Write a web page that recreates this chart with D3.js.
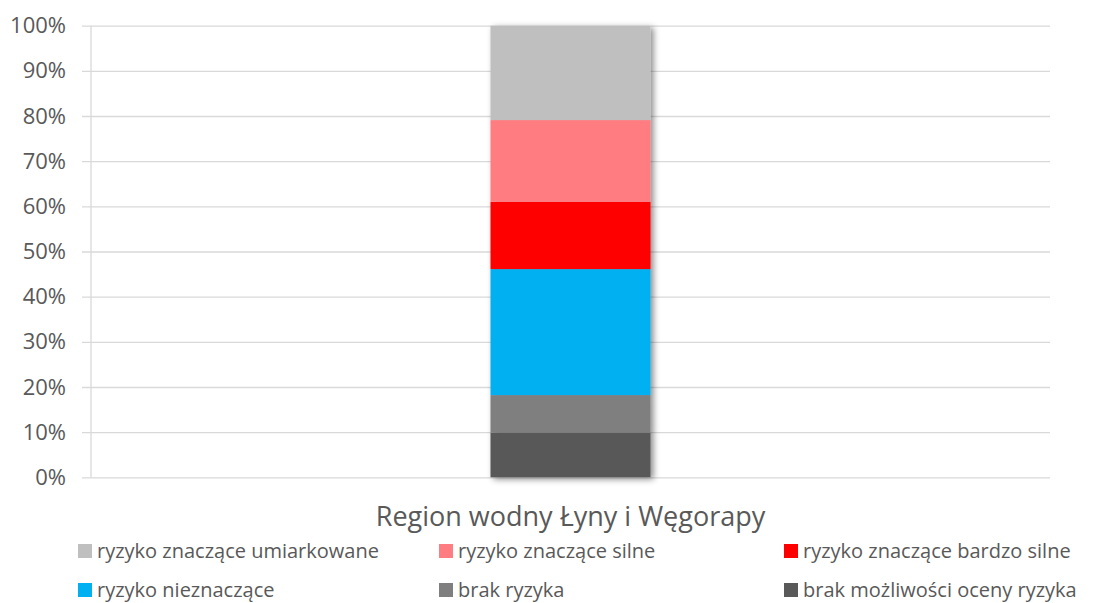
<!DOCTYPE html>
<html>
<head>
<meta charset="utf-8">
<script src="https://cdn.jsdelivr.net/npm/d3@7"></script>
<style>
  body { margin: 0; background: #fff; }
  text { font-family: "Open Sans", sans-serif; fill: #595959; }
</style>
</head>
<body>
<div id="chart"></div>
<script>
// Stacked column, one category
const categories = ["Region wodny Łyny i Węgorapy"];
const seriesNames = [
  "brak możliwości oceny ryzyka",
  "brak ryzyka",
  "ryzyko nieznaczące",
  "ryzyko znaczące bardzo silne",
  "ryzyko znaczące silne",
  "ryzyko znaczące umiarkowane"
];
const seriesValues = [9.9, 8.3, 27.9, 14.9, 18.1, 20.9];
const seriesColors = ["#595959", "#7F7F7F", "#00B0F0", "#FF0000", "#FF7C80", "#BFBFBF"];
const yTicks = [0, 10, 20, 30, 40, 50, 60, 70, 80, 90, 100];
const legendOrder = [
  "ryzyko znaczące umiarkowane",
  "ryzyko znaczące silne",
  "ryzyko znaczące bardzo silne",
  "ryzyko nieznaczące",
  "brak ryzyka",
  "brak możliwości oceny ryzyka"
];

const width = 1109, height = 603;
const margin = { top: 25.7, right: 59, bottom: 125.7, left: 91 };
const innerW = width - margin.left - margin.right;
const innerH = height - margin.top - margin.bottom;

const svg = d3.select("#chart").append("svg")
  .attr("width", width).attr("height", height);

const defs = svg.append("defs");
const f = defs.append("filter").attr("id", "shadow")
  .attr("x", "-20%").attr("y", "-20%").attr("width", "150%").attr("height", "150%");
f.append("feDropShadow").attr("dx", 3).attr("dy", 2).attr("stdDeviation", 3)
  .attr("flood-color", "#000").attr("flood-opacity", 0.45);

const g = svg.append("g").attr("transform", `translate(${margin.left},${margin.top})`);

const x = d3.scaleBand().domain(categories).range([0, innerW]).padding(0.714);
const y = d3.scaleLinear().domain([0, 100]).range([innerH, 0]);

// grid + y axis
const yAxis = g.append("g")
  .call(d3.axisLeft(y).tickValues(yTicks).tickSize(-innerW - 9).tickFormat(d => d + "%"));
yAxis.attr("transform", "translate(-9,0)");
yAxis.select(".domain").remove();
yAxis.selectAll(".tick line").attr("stroke", "#D9D9D9").attr("stroke-width", 1.3);
yAxis.selectAll(".tick text").attr("font-size", 22).attr("fill", "#595959").attr("x", -16);

g.append("line").attr("x1", 0).attr("x2", 0).attr("y1", 0).attr("y2", innerH)
  .attr("stroke", "#D9D9D9").attr("stroke-width", 1.3);

// stacked bar
const row = {};
seriesNames.forEach((s, i) => row[s] = seriesValues[i]);
const stack = d3.stack().keys(seriesNames)([row]);
const color = d3.scaleOrdinal().domain(seriesNames).range(seriesColors);

const bars = g.append("g").attr("filter", "url(#shadow)");
stack.forEach(layer => {
  bars.append("rect")
    .attr("x", x(categories[0]))
    .attr("width", x.bandwidth())
    .attr("y", y(layer[0][1]))
    .attr("height", y(layer[0][0]) - y(layer[0][1]))
    .attr("fill", color(layer.key));
});

// category axis
const xAxis = g.append("g").attr("transform", `translate(0,${innerH})`)
  .call(d3.axisBottom(x).tickSize(0).tickPadding(30));
xAxis.select(".domain").remove();
xAxis.selectAll("text").attr("font-size", 27).attr("fill", "#595959");

// legend
const legendCols = [78, 439, 784];
const legendRows = [551, 590];
const legend = svg.append("g");
legendOrder.forEach((name, i) => {
  const lx = legendCols[i % 3], ly = legendRows[Math.floor(i / 3)];
  const item = legend.append("g").attr("transform", `translate(${lx},${ly})`);
  item.append("rect").attr("x", 0).attr("y", -7).attr("width", 14).attr("height", 14)
    .attr("fill", color(name));
  item.append("text").attr("x", 19).attr("y", 0).attr("dy", "0.35em")
    .attr("font-size", 20).text(name);
});
</script>
</body>
</html>
